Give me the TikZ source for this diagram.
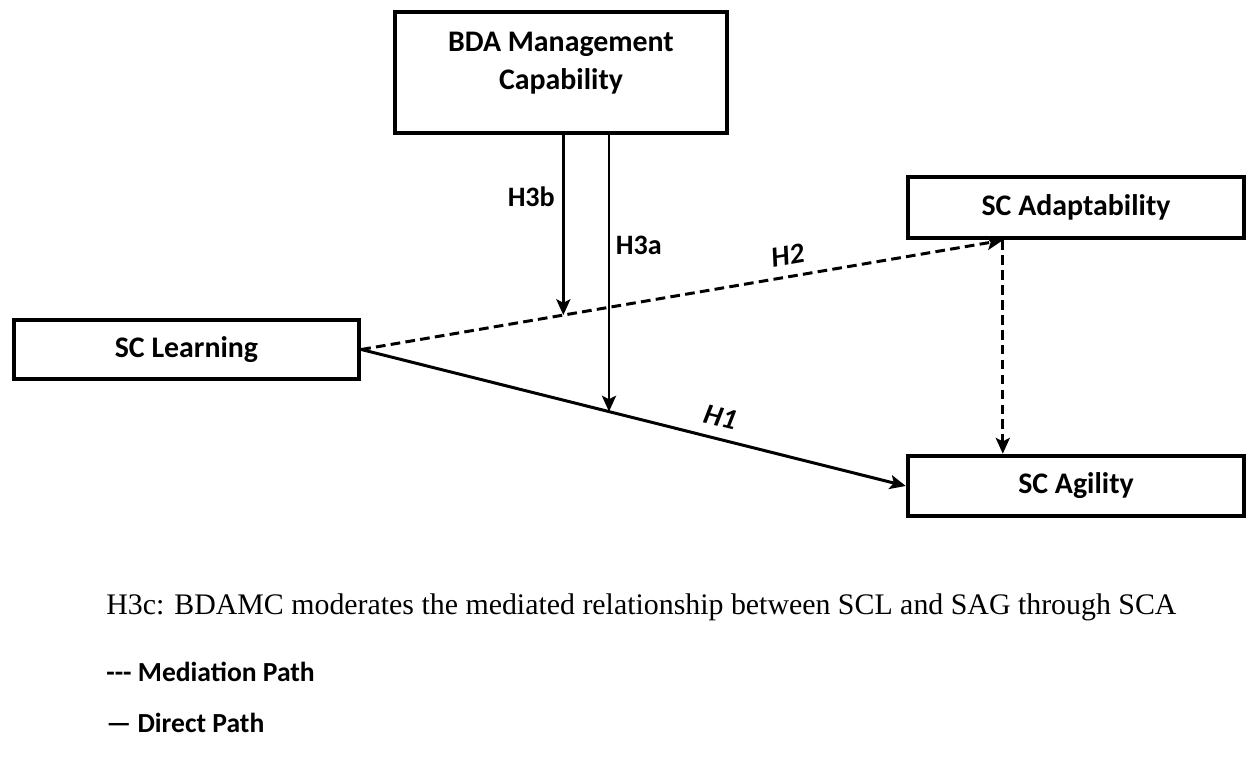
\documentclass[tikz,border=0pt]{standalone}
\usepackage{fontspec}
\setmainfont{Liberation Serif}
\newfontfamily\calibri{Carlito}
\usepackage{tikz}
\usetikzlibrary{arrows.meta}
\usetikzlibrary{calc}
\usetikzlibrary{positioning}
\tikzset{
    tbox/.style = {align=center, inner sep=0pt, text centered},
    box/.style = {tbox, rectangle, draw=black, line width=2.6pt},
    boxtext/.style = {tbox, font=\calibri\bfseries\fontsize{17}{21.6}\selectfont},
    direct/.style = {->, line width=1.7pt},
    mediation/.style = {direct, dash pattern=on 5.5pt off 3pt},
    hyp/.style = {tbox, inner sep=4pt, font=\calibri\bfseries\fontsize{16}{19}\selectfont},
    hypit/.style = {tbox, inner sep=6pt, font=\calibri\bfseries\itshape\fontsize{16.5}{19}\selectfont},
    note/.style = {anchor=base west, inner sep=0pt, font=\fontsize{17}{20}\selectfont},
    key/.style = {anchor=base west, inner sep=0pt, font=\calibri\bfseries\fontsize{15.7}{19}\selectfont}
}

\begin{document}
\begin{tikzpicture}
    [x=0.02cm, y=-0.02cm, >={Stealth[length=9pt, width=8pt, inset=2pt]}]

    \useasboundingbox (0,0) rectangle (1252,776);

    % constructs
    \node [box, minimum width=6.64cm, minimum height=2.42cm] (bda) at (561,72.5) {};
    \node [boxtext, below=0.44cm of bda.north] (bdatext) {BDA Management\\Capability};
    \node [box, boxtext, minimum width=6.9cm, minimum height=1.18cm] (learn) at (186.5,349.5) {SC Learning};
    \node [box, boxtext, minimum width=6.72cm, minimum height=1.22cm] (ada) at (1076,207.5) {SC Adaptability};
    \node [box, boxtext, minimum width=6.72cm, minimum height=1.2cm] (agi) at (1076,486) {SC Agility};

    \coordinate (adaport) at ($(ada.south west)!0.285!(ada.south east)$);

    % paths
    \draw [mediation] (learn.east) -- coordinate[pos=0.315] (hb)
        node [hypit, pos=0.67, above, sloped] (lh2) {H2} (adaport);
    \draw [direct] (learn.east) -- coordinate[pos=0.455] (ha)
        node [hypit, pos=0.65, above, sloped] (lh1) {H1} (agi.west);
    \draw [mediation] (adaport) -- (agi.north -| adaport);

    % moderation
    \draw [direct] (bda.south -| hb) -- node [hyp, pos=0.34, left] (lh3b) {H3b} (hb);
    \draw [direct] (bda.south -| ha) -- node [hyp, pos=0.4, right, inner sep=3pt] (lh3a) {H3a} (ha);

    % notes
    \node [note] (h3c) at (106,615) {H3c: BDAMC moderates the mediated relationship between SCL and SAG through SCA};
    \node [key] (kmed) at (106,682) {-{}-{}- Mediation Path};
    \node [key] (kdir) at (106,733) {— Direct Path};
\end{tikzpicture}
\end{document}
